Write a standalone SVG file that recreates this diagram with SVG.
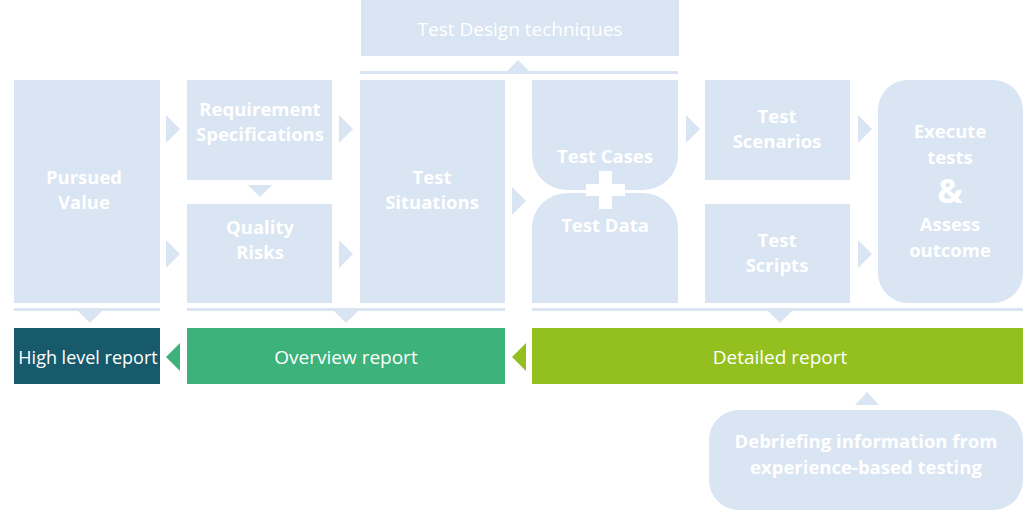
<svg xmlns="http://www.w3.org/2000/svg" width="1023" height="510" viewBox="0 0 1023 510">
<style>
.b{fill:#d9e5f2}
.t{fill:#fff;font-family:"Open Sans",sans-serif;font-weight:bold;font-size:18.5px;text-anchor:middle}
.r{fill:#fff;font-family:"Open Sans",sans-serif;font-size:19px;text-anchor:middle}
</style>
<rect width="1023" height="510" fill="#fff"/>
<g id="design"><rect class="b" x="361" y="0" width="318" height="56"/><text class="r" x="520" y="36">Test Design techniques</text></g>
<g id="pursued"><rect class="b" x="14" y="80" width="146" height="223"/><text class="t" x="84" y="184">Pursued</text><text class="t" x="84" y="209">Value</text></g>
<g id="req"><rect class="b" x="187" y="80" width="145" height="100"/><text class="t" x="260" y="116">Requirement</text><text class="t" x="260" y="141">Specifications</text></g>
<g id="risks"><rect class="b" x="187" y="204" width="145" height="99"/><text class="t" x="260" y="234">Quality</text><text class="t" x="260" y="259">Risks</text></g>
<g id="situations"><rect class="b" x="360" y="80" width="145" height="223"/><text class="t" x="432" y="184">Test</text><text class="t" x="432" y="209">Situations</text></g>
<g id="cases"><path class="b" d="M532 80H678V155A35 35 0 0 1 643 190H567A35 35 0 0 1 532 155Z"/><text class="t" x="605" y="163">Test Cases</text></g>
<g id="data"><path class="b" d="M567 193H643A35 35 0 0 1 678 228V303H532V228A35 35 0 0 1 567 193Z"/><text class="t" x="605" y="232">Test Data</text></g>
<g id="plus"><rect x="599" y="171" width="13" height="38" fill="#fff"/><rect x="586" y="184" width="39" height="12" fill="#fff"/></g>
<g id="scenarios"><rect class="b" x="705" y="80" width="145" height="100"/><text class="t" x="777" y="123">Test</text><text class="t" x="777" y="148">Scenarios</text></g>
<g id="scripts"><rect class="b" x="705" y="204" width="145" height="99"/><text class="t" x="777" y="247">Test</text><text class="t" x="777" y="272">Scripts</text></g>
<g id="execute"><rect class="b" x="878" y="80" width="145" height="223" rx="30"/><text class="t" x="950" y="138">Execute</text><text class="t" x="950" y="164">tests</text><text class="t" x="950" y="203" style="font-size:34px">&amp;</text><text class="t" x="950" y="231">Assess</text><text class="t" x="950" y="257">outcome</text></g>
<g id="high"><rect x="14" y="328" width="146" height="56" fill="#175a6b"/><text class="r" x="88" y="364" style="font-size:18px">High level report</text></g>
<g id="overview"><rect x="187" y="328" width="318" height="56" fill="#3db27a"/><text class="r" x="346" y="364">Overview report</text></g>
<g id="detailed"><rect x="532" y="328" width="491" height="56" fill="#93c01f"/><text class="r" x="780" y="364">Detailed report</text></g>
<g id="debrief"><rect class="b" x="709" y="410" width="314" height="100" rx="30"/><text class="t" x="866" y="448">Debriefing information from</text><text class="t" x="866" y="474">experience-based testing</text></g>
<g id="connectors">
<rect class="b" x="360" y="71" width="318" height="3"/>
<polygon class="b" points="506,72 530,72 518,60"/>
<rect class="b" x="14" y="308" width="146" height="3"/>
<rect class="b" x="187" y="308" width="318" height="3"/>
<rect class="b" x="532" y="308" width="491" height="3"/>
<polygon class="b" points="78,311 102,311 90,323"/>
<polygon class="b" points="334,311 358,311 346,323"/>
<polygon class="b" points="768,311 792,311 780,323"/>
<polygon class="b" points="248,185 272,185 260,197"/>
<polygon class="b" points="855,405 879,405 867,392"/>
<polygon class="b" points="166,115 180,129 166,143"/>
<polygon class="b" points="166,240 180,254 166,268"/>
<polygon class="b" points="339,115 353,129 339,143"/>
<polygon class="b" points="339,240 353,254 339,268"/>
<polygon class="b" points="512,187 526,201 512,215"/>
<polygon class="b" points="686,115 700,129 686,143"/>
<polygon class="b" points="858,115 872,129 858,143"/>
<polygon class="b" points="858,240 872,254 858,268"/>
<polygon points="180,343 166,357 180,371" fill="#3cb179"/>
<polygon points="526,343 512,357 526,371" fill="#93c020"/>
</g>
</svg>
